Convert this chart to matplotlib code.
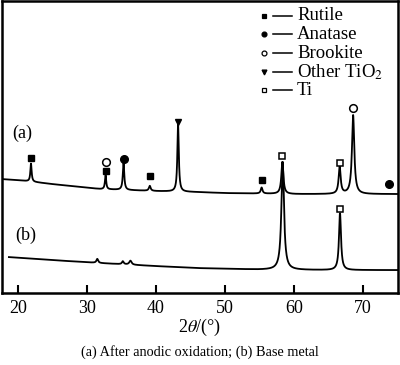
import numpy as np
import matplotlib
matplotlib.use("Agg")
import matplotlib.pyplot as plt

plt.rcParams['font.family'] = ['Liberation Serif', 'DejaVu Serif']
plt.rcParams['mathtext.fontset'] = 'stix'

# baseline anchors (2theta, intensity)
base_a_x = [17.7, 20, 25, 32, 40, 46, 50, 60, 75]
base_a_y = [114, 113, 109, 104, 102, 101, 100, 99, 99]
base_b_x = [18.7, 25, 32, 40, 46, 55, 65, 75]
base_b_y = [36, 33, 30, 27, 25, 23.5, 23, 23]

# peaks: position, height above baseline, FWHM
peaks_a_pos = [21.9, 32.7, 35.3, 39.1, 43.2, 55.3, 58.3, 66.6, 68.55]
peaks_a_h = [18, 14, 27, 5, 67, 6, 32, 27, 79]
peaks_a_w = [0.22, 0.22, 0.25, 0.3, 0.25, 0.3, 0.35, 0.35, 0.4]

peaks_b_pos = [31.5, 35.2, 36.3, 58.35, 66.65]
peaks_b_h = [4, 3, 4, 108, 57]
peaks_b_w = [0.3, 0.3, 0.4, 0.45, 0.35]

# phase markers on the curves
rutile = ([21.9, 32.7, 39.1, 55.3], [135, 122, 117, 113])
anatase = ([35.3, 73.8], [134, 109])
brookite = ([32.7, 68.55], [131, 185])
other = ([43.2], [171])
ti = ([58.3, 66.6, 66.65], [137, 130, 84])


def pattern(x, bx, by, pos, h, w):
    y = np.interp(x, bx, by)
    for p, hh, ww in zip(pos, h, w):
        g = ww / 2
        y = y + hh * g**2 / ((x - p)**2 + g**2)
    return y


xa = np.arange(17.7, 75.0, 0.02)
xb = np.arange(18.7, 75.0, 0.02)
ya = pattern(xa, base_a_x, base_a_y, peaks_a_pos, peaks_a_h, peaks_a_w)
yb = pattern(xb, base_b_x, base_b_y, peaks_b_pos, peaks_b_h, peaks_b_w)

fig = plt.figure(figsize=(4, 3.65), dpi=100)
ax = fig.add_axes([0.005, 0.197, 0.99, 0.8])
ax.plot(xa, ya, 'k-', lw=1.3)
ax.plot(xb, yb, 'k-', lw=1.3)

ax.plot(*rutile, 's', color='k', ms=5, ls='none')
ax.plot(*anatase, 'o', color='k', ms=5.5, ls='none')
ax.plot(*brookite, 'o', mfc='white', mec='k', mew=1.1, ms=5.5, ls='none')
ax.plot(*other, 'v', color='k', ms=5, ls='none')
ax.plot(*ti, 's', mfc='white', mec='k', mew=1.1, ms=5, ls='none')

ax.text(20.7, 160, '(a)', fontsize=13, ha='center', va='center')
ax.text(21.2, 58, '(b)', fontsize=13, ha='center', va='center')

# legend
leg_labels = ['Rutile', 'Anatase', 'Brookite', 'Other TiO$_2$', 'Ti']
leg_style = [dict(marker='s', mfc='k', mec='k'),
             dict(marker='o', mfc='k', mec='k'),
             dict(marker='o', mfc='white', mec='k'),
             dict(marker='v', mfc='k', mec='k'),
             dict(marker='s', mfc='white', mec='k')]
for i, (lab, st) in enumerate(zip(leg_labels, leg_style)):
    yy = 0.950 - i * 0.064
    ax.plot([0.662], [yy], transform=ax.transAxes, ms=3.5, mew=0.9, ls='none', **st)
    ax.plot([0.684, 0.732], [yy, yy], transform=ax.transAxes, color='k', lw=1.1)
    ax.text(0.745, yy, lab, transform=ax.transAxes, fontsize=13.5, va='center')

ax.set_xlim(17.7, 75.05)
ax.set_ylim(0, 292)
ax.set_xticks([20, 30, 40, 50, 60, 70])
ax.set_yticks([])
ax.tick_params(axis='x', direction='in', length=6, width=1.5, labelsize=13, pad=5)
for s in ax.spines.values():
    s.set_linewidth(1.8)

ax.set_xlabel(r'2$\theta$/(°)', fontsize=13, labelpad=0)
fig.text(0.5, 0.025, '(a) After anodic oxidation; (b) Base metal', fontsize=10.3, ha='center')

fig.savefig('out.png', dpi=100)
